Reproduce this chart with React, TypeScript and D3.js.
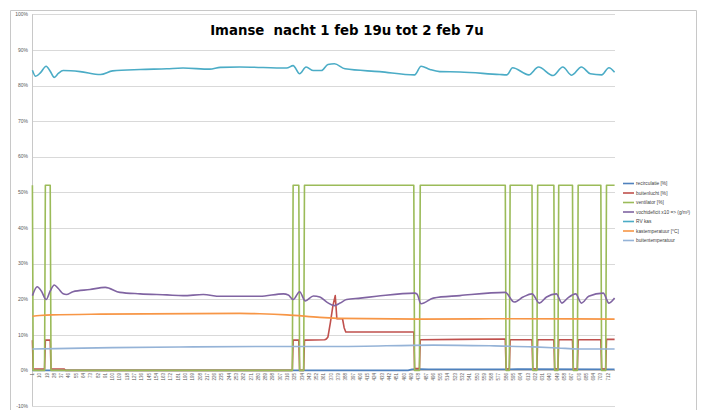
import React from "react";
import * as d3 from "d3";

const W = 702;
const H = 410;
const N = 720;

const title = "Imanse  nacht 1 feb 19u tot 2 feb 7u";

const yTicks = [-10, 0, 10, 20, 30, 40, 50, 60, 70, 80, 90, 100];
const xTickLabels = d3.range(1, N + 1, 9);

const seriesNames = [
  "recirculatie [%]",
  "buitenlucht [%]",
  "ventilator [%]",
  "vochtdeficit x10 => (g/m³)",
  "RV kas",
  "kastemperatuur [°C]",
  "buitentemperatuur",
];
const seriesColors = ["#4F81BD", "#C0504D", "#9BBB59", "#8064A2", "#4BACC6", "#F79646", "#95B3D7"];

// [category index, value %]
const recirculatie: [number, number][] = [
  [1, 0], [465, 0], [470, 0.3], [480, 0.4], [490, 0.3], [560, 0.3], [600, 0.35], [720, 0.3],
];

const buitenlucht: [number, number][] = [
  [1, 8.5], [2, 0.4], [16, 0.4], [17, 8.5], [23, 8.5], [24, 0.4], [40, 0.4], [42, 0],
  [322, 0], [323, 8.5], [330, 8.5], [331, 0], [336, 0], [337, 8.5], [362, 8.6], [364, 8.8],
  [366, 9.4], [369, 13.4], [372, 18], [375, 21], [377, 14.5], [384, 14.5], [386, 12], [388, 10.8],
  [472, 10.8], [473, 0.5], [479, 0.5], [480, 8.6], [530, 8.7], [585, 8.8], [586, 0.4], [590, 0.4],
  [591, 8.6], [618, 8.6], [619, 0.4], [624, 0.4], [625, 8.6], [645, 8.6], [646, 0.4], [650, 0.4],
  [651, 8.6], [668, 8.6], [669, 0.4], [674, 0.4], [675, 8.6], [703, 8.6], [704, 0.4], [709, 0.4],
  [710, 8.7], [720, 8.7],
];

const ventilator: [number, number][] = [
  [1, 52], [2, 0], [16, 0], [17, 52], [23, 52], [24, 0], [322, 0], [323, 52], [330, 52],
  [331, 0], [336, 0], [337, 52], [472, 52], [473, 0], [479, 0], [480, 52], [585, 52], [586, 0],
  [590, 0], [591, 52], [618, 52], [619, 0], [624, 0], [625, 52], [645, 52], [646, 0], [650, 0],
  [651, 52], [668, 52], [669, 0], [674, 0], [675, 52], [703, 52], [704, 0], [709, 0], [710, 52],
  [720, 52],
];

const vochtdeficit: [number, number][] = [
  [1, 21.0], [7, 23.5], [12, 22.3], [18, 19.9], [23, 22.3], [28, 24.0], [33, 23.0], [39, 21.5],
  [43, 21.3], [51, 22.1], [72, 22.7], [91, 23.3], [109, 21.9], [134, 21.5], [167, 21.2],
  [187, 21.0], [212, 21.3], [233, 20.8], [257, 20.8], [282, 20.8], [311, 21.5], [317, 21.2],
  [323, 19.9], [331, 22.1], [338, 19.5], [348, 20.9], [356, 20.6], [365, 19.1], [374, 18.2],
  [381, 18.9], [389, 19.9], [406, 20.3], [426, 20.8], [473, 21.7], [476, 21.4], [481, 18.7],
  [496, 20.3], [529, 21.0], [585, 21.9], [596, 19.2], [607, 20.6], [618, 21.5], [627, 18.9],
  [636, 20.6], [648, 21.5], [655, 18.9], [662, 20.3], [672, 21.5], [679, 18.9], [688, 20.8],
  [706, 21.7], [713, 18.9], [720, 20.3],
];

const rvKas: [number, number][] = [
  [1, 84.3], [5, 82.6], [11, 83.6], [18, 85.4], [23, 84.0], [28, 82.3], [33, 83.4], [39, 84.2],
  [60, 83.9], [85, 83.1], [100, 84.1], [134, 84.5], [167, 84.7], [187, 84.9], [220, 84.6],
  [233, 85.1], [257, 85.2], [315, 84.9], [323, 85.6], [331, 83.3], [339, 85.2], [348, 84.2],
  [358, 84.2], [366, 85.9], [374, 86.1], [387, 84.7], [430, 83.9], [473, 83.0], [481, 85.4],
  [492, 84.5], [504, 83.9], [529, 83.8], [578, 83.1], [587, 83.0], [594, 85.0], [614, 83.0],
  [626, 85.2], [644, 82.8], [656, 85.2], [667, 82.9], [679, 85.2], [690, 83.3], [704, 83.0],
  [713, 85.0], [720, 83.7],
];

const kastemperatuur: [number, number][] = [
  [1, 15.2], [10, 15.4], [25, 15.6], [85, 15.8], [257, 16.0], [282, 15.9], [315, 15.6],
  [356, 14.9], [381, 14.6], [480, 14.4], [585, 14.5], [720, 14.4],
];

const buitentemperatuur: [number, number][] = [
  [1, 6.0], [30, 6.1], [100, 6.4], [200, 6.6], [282, 6.7], [380, 6.7], [496, 7.1], [566, 6.9],
  [620, 6.6], [650, 6.3], [675, 6.0], [720, 6.0],
];

const allSeries = [recirculatie, buitenlucht, ventilator, vochtdeficit, rvKas, kastemperatuur, buitentemperatuur];
const smooth = [false, false, false, true, true, true, true];

export default function App() {
  const plotL = 32;
  const plotR = 615;
  const x = d3.scaleLinear().domain([0.5, N + 0.5]).range([plotL, plotR]);
  const y = d3.scaleLinear().domain([-10, 100]).range([406, 14.3]);

  const font = "'Liberation Sans', Arial, sans-serif";

  return (
    <svg width={W} height={H} style={{ position: "absolute", left: 0, top: 0, background: "#fff" }}>
      <rect x={0} y={0} width={W} height={H} fill="#fff" />
      {/* chart border */}
      <path d={`M10.5,${H + 5} V10.5 H696.5 V${H + 5}`} fill="none" stroke="#C8C8C8" strokeWidth={1} />
      {/* gridlines */}
      {yTicks.map((t) => (
        <line key={t} x1={plotL} x2={plotR} y1={Math.round(y(t)) + 0.5} y2={Math.round(y(t)) + 0.5} stroke="#D9D9D9" strokeWidth={1} />
      ))}
      {/* y axis */}
      <line x1={plotL + 0.5} x2={plotL + 0.5} y1={y(100)} y2={y(-10)} stroke="#C8C8C8" />
      <line x1={plotL} x2={plotR} y1={Math.round(y(0)) + 0.5} y2={Math.round(y(0)) + 0.5} stroke="#BFBFBF" />
      {yTicks.map((t) => (
        <text key={t} x={28} y={y(t)} dy="0.35em" textAnchor="end" fontSize={5} fill="#595959" fontFamily={font}>
          {t}%
        </text>
      ))}
      {xTickLabels.map((c) => (
        <text
          key={c}
          transform={`translate(${x(c)},373) rotate(-90)`}
          textAnchor="end"
          dy="0.35em"
          fontSize={4.5}
          fill="#595959"
          fontFamily={font}
        >
          {c}
        </text>
      ))}
      {/* series */}
      {allSeries.map((s, i) => {
        const line = d3
          .line<[number, number]>()
          .x((d) => x(d[0]))
          .y((d) => y(d[1]))
          .curve(smooth[i] ? d3.curveMonotoneX : d3.curveLinear);
        return <path key={i} d={line(s) || ""} fill="none" stroke={seriesColors[i]} strokeWidth={1.6} strokeLinejoin="round" />;
      })}
      {/* title */}
      <text x={347} y={35} textAnchor="middle" fontSize={13.3} fontWeight="bold" fontFamily="'DejaVu Sans', Verdana, sans-serif" fill="#000" style={{ whiteSpace: "pre" }}>
        {title}
      </text>
      {/* legend */}
      {seriesNames.map((n, i) => {
        const ly = 183.5 + i * 9.5;
        return (
          <g key={n}>
            <line x1={623} x2={634} y1={ly} y2={ly} stroke={seriesColors[i]} strokeWidth={1.6} />
            <text x={636} y={ly} dy="0.35em" fontSize={4.8} fill="#404040" fontFamily={font}>
              {n}
            </text>
          </g>
        );
      })}
    </svg>
  );
}
